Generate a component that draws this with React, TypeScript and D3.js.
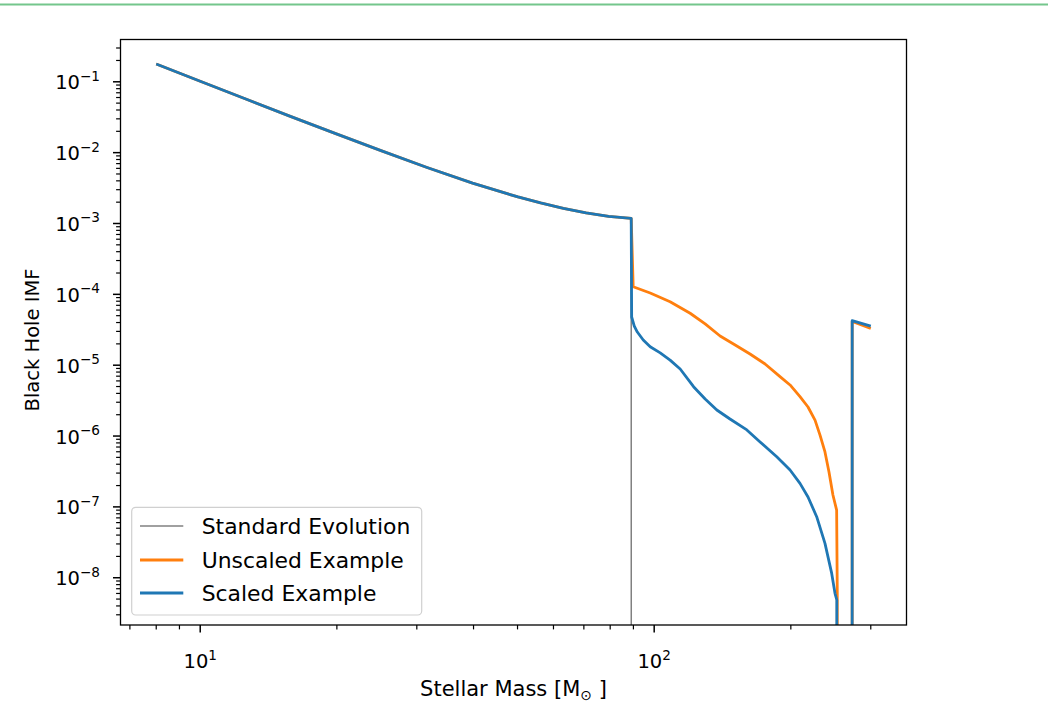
import React from 'react';
import * as d3 from 'd3';

// ---- data ----
const massMain = [8, 10, 12.6, 15.85, 19.95, 25.1, 31.6, 39.8, 50.1, 56.2, 63.1, 70.8, 79.4, 89];
const imfMain = [0.178, 0.102, 0.0573, 0.0322, 0.0184, 0.0106, 0.00617, 0.00372, 0.00237, 0.00195, 0.00164, 0.00141, 0.00126, 0.00118];

const massStandardHigh = [89.2, 300];
const imfStandardHigh = [0, 0];

const massUnscaledHigh = [89.9, 98, 108.4, 120, 129.5, 139.7, 150.8, 162.6, 175.5, 189.3, 199.2, 209.5, 218.2, 226.1, 231.9, 237.8, 242.7, 247.6, 252.3, 253.1, 253.8, 272.5, 273, 300];
const imfUnscaledHigh = [1.28e-4, 1.045e-4, 7.87e-5, 5.41e-5, 3.82e-5, 2.58e-5, 1.93e-5, 1.44e-5, 1.04e-5, 6.89e-6, 5.26e-6, 3.59e-6, 2.57e-6, 1.68e-6, 1.03e-6, 5.96e-7, 3.11e-7, 1.47e-7, 9.0e-8, 6.1e-9, 0, 0, 4.15e-5, 3.3e-5];

const massScaledHigh = [89.2, 90.4, 91.8, 94.6, 98, 103.1, 108.4, 114.1, 122.1, 129.5, 137.4, 146.9, 160, 171.1, 186.2, 199.2, 209.5, 218.2, 228, 237.8, 246, 250.2, 252.5, 253.8, 272.5, 273, 300];
const imfScaledHigh = [4.79e-5, 3.57e-5, 2.94e-5, 2.27e-5, 1.82e-5, 1.49e-5, 1.18e-5, 8.83e-6, 4.97e-6, 3.33e-6, 2.33e-6, 1.74e-6, 1.22e-6, 8.24e-7, 5.11e-7, 3.32e-7, 2.15e-7, 1.38e-7, 7.27e-8, 3.06e-8, 1.16e-8, 6.03e-9, 4.85e-9, 0, 0, 4.25e-5, 3.57e-5];

const seriesNames = ['Standard Evolution', 'Unscaled Example', 'Scaled Example'];
const xMajorTicks = [10, 100];
const xMajorLabels = ['1', '2'];
const yMajorTicks = [1e-1, 1e-2, 1e-3, 1e-4, 1e-5, 1e-6, 1e-7, 1e-8];
const yMajorLabels = ['−1', '−2', '−3', '−4', '−5', '−6', '−7', '−8'];

// ---- layout ----
const W = 1048, H = 704;
const P = { left: 120.5, right: 906.5, top: 39.5, bottom: 625 };
const FONT = 'DejaVu Sans, sans-serif';

const x = d3.scaleLog().domain([10 ** 0.8244, 10 ** 2.5558]).range([P.left, P.right]);
const y = d3.scaleLog().domain([10 ** -8.667, 10 ** -0.403]).range([P.bottom, P.top]);

type Pt = [number, number];
const zip = (a: number[], b: number[]): Pt[] => a.map((m, i) => [m, b[i]] as Pt);

const standard = zip(massMain.concat(massStandardHigh), imfMain.concat(imfStandardHigh));
const unscaled = zip(massMain.concat(massUnscaledHigh), imfMain.concat(imfUnscaledHigh));
const scaled = zip(massMain.concat(massScaledHigh), imfMain.concat(imfScaledHigh));

const line = d3
  .line<Pt>()
  .x((d) => x(d[0]))
  .y((d) => (d[1] > 0 ? y(d[1]) : P.bottom + 3000));

const colors = ['#808080', '#ff7f0e', '#1f77b4'];
const widths = [1.5, 2.8, 2.8];

function minorTicks(lo: number, hi: number, dom: [number, number]) {
  const out: number[] = [];
  for (let k = lo; k <= hi; k++) {
    for (let m = 2; m <= 9; m++) {
      const v = m * 10 ** k;
      if (v >= dom[0] && v <= dom[1]) out.push(v);
    }
  }
  return out;
}

const TICK_FS = 19.5;
const SUP_FS = 13.6;

export default function App() {
  const xDom = x.domain() as [number, number];
  const yDom = y.domain() as [number, number];
  const xMinor = minorTicks(0, 2, xDom);
  const yMinor = minorTicks(-10, -1, yDom);
  const series = [standard, unscaled, scaled];

  const legend = { x0: 131.7, y0: 507.3, x1: 421.7, y1: 615 };
  const rowY = [526, 560, 593];

  return (
    <svg
      width={W}
      height={H}
      style={{ position: 'absolute', left: 0, top: 0, background: '#fff' }}
      fontFamily={FONT}
    >
      <rect x={0} y={3.5} width={W} height={2} fill="#74c68c" />
      <defs>
        <clipPath id="plotclip">
          <rect x={P.left} y={P.top} width={P.right - P.left} height={P.bottom - P.top} />
        </clipPath>
      </defs>

      <g clipPath="url(#plotclip)">
        {series.map((s, i) => (
          <path key={i} d={line(s) || ''} fill="none" stroke={colors[i]} strokeWidth={widths[i]} strokeLinejoin="round" />
        ))}
      </g>

      {/* spines */}
      <rect x={P.left} y={P.top} width={P.right - P.left} height={P.bottom - P.top} fill="none" stroke="#000" strokeWidth={1.3} />

      {/* x ticks */}
      {xMinor.map((t, i) => (
        <line key={'xm' + i} x1={x(t)} x2={x(t)} y1={P.bottom} y2={P.bottom + 4.4} stroke="#000" strokeWidth={1.2} />
      ))}
      {xMajorTicks.map((t, i) => (
        <g key={'xM' + i}>
          <line x1={x(t)} x2={x(t)} y1={P.bottom} y2={P.bottom + 7.5} stroke="#000" strokeWidth={1.5} />
          <text x={x(t)} y={668} textAnchor="middle" fontSize={TICK_FS} fill="#000">
            10
            <tspan dy={-8.5} fontSize={SUP_FS}>{xMajorLabels[i]}</tspan>
          </text>
        </g>
      ))}

      {/* y ticks */}
      {yMinor.map((t, i) => (
        <line key={'ym' + i} x1={P.left - 4.4} x2={P.left} y1={y(t)} y2={y(t)} stroke="#000" strokeWidth={1.2} />
      ))}
      {yMajorTicks.map((t, i) => (
        <g key={'yM' + i}>
          <line x1={P.left - 7.5} x2={P.left} y1={y(t)} y2={y(t)} stroke="#000" strokeWidth={1.5} />
          <text x={100} y={y(t) + 7.5} textAnchor="end" fontSize={TICK_FS} fill="#000">
            10
            <tspan dy={-8.5} fontSize={SUP_FS}>{yMajorLabels[i]}</tspan>
          </text>
        </g>
      ))}

      {/* axis labels */}
      <text x={(P.left + P.right) / 2} y={696} textAnchor="middle" fontSize={21} fill="#000">
        Stellar Mass [M
        <tspan dy={4} fontSize={14}>⊙</tspan>
        <tspan dy={-4}> ]</tspan>
      </text>
      <text
        transform={`translate(39, 340) rotate(-90)`}
        textAnchor="middle"
        fontSize={19.5}
        fill="#000"
      >
        Black Hole IMF
      </text>

      {/* legend */}
      <rect
        x={legend.x0}
        y={legend.y0}
        width={legend.x1 - legend.x0}
        height={legend.y1 - legend.y0}
        rx={4}
        fill="#fff"
        fillOpacity={0.8}
        stroke="#d0d0d0"
        strokeWidth={1.2}
      />
      {seriesNames.map((n, i) => (
        <g key={'lg' + i}>
          <line x1={140} x2={183.3} y1={rowY[i]} y2={rowY[i]} stroke={colors[i]} strokeWidth={widths[i]} />
          <text x={201.7} y={rowY[i] + 7.8} fontSize={21.9} fill="#000">
            {n}
          </text>
        </g>
      ))}
    </svg>
  );
}
